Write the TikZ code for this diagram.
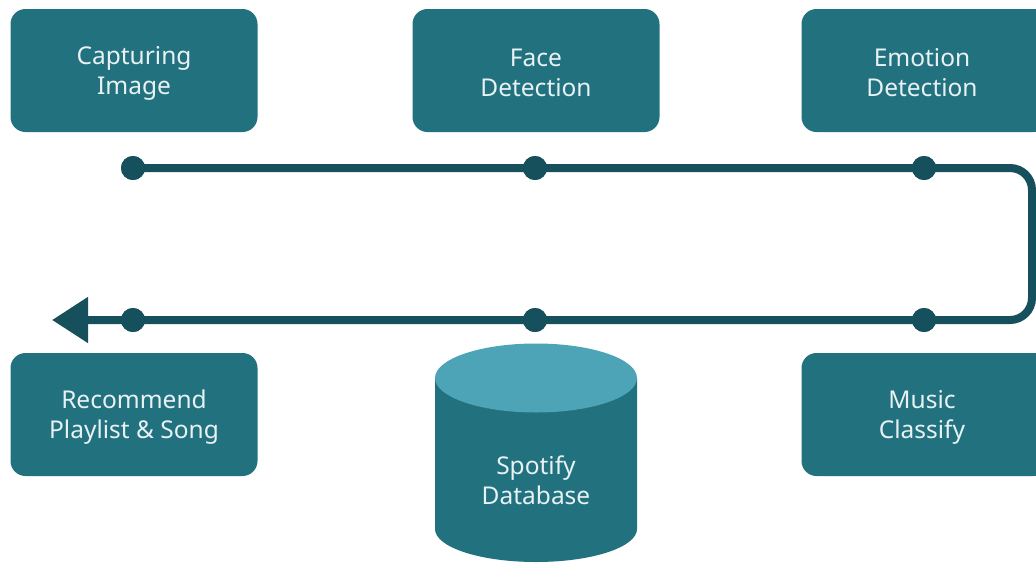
\documentclass[tikz,border=0pt]{standalone}
\usepackage{fontspec}
\setmainfont{Noto Sans}
\usetikzlibrary{arrows.meta}
\definecolor{boxfill}{HTML}{22717F}
\definecolor{linecol}{HTML}{15505C}
\definecolor{cyltop}{HTML}{4CA4B6}
\definecolor{txt}{HTML}{E8F1F3}
\begin{document}
\begin{tikzpicture}[x=1pt,y=-1pt,
  stepbox/.style={draw=none, fill=boxfill, rounded corners=15pt, minimum width=247pt, minimum height=123pt, inner sep=0pt},
  dot/.style={circle, fill=linecol, minimum size=24pt, inner sep=0pt},
  flow/.style={draw=linecol, line width=8pt, rounded corners=22pt},
  lbl/.style={align=center, text=txt, font=\fontsize{24.5}{30}\selectfont}]
\useasboundingbox (0,0) rectangle (1036,563);
\clip (0,0) rectangle (1036,563);
% boxes
\node[stepbox] (cap) at (134,70.5) {};
\node[stepbox] (face) at (536,70.5) {};
\node[stepbox] (emo) at (925,70.5) {};
\node[stepbox] (rec) at (134,414.5) {};
\node[stepbox] (mus) at (925,414.5) {};
\node[lbl] (capt) at (134,73) {Capturing\\Image};
\node[lbl] (facet) at (536,73) {Face\\Detection};
\node[lbl] (emot) at (922,73) {Emotion\\Detection};
\node[lbl] (rect) at (134,417) {Recommend\\Playlist \& Song};
\node[lbl] (must) at (922,417) {Music\\Classify};
% cylinder
\fill[boxfill] (435,378) -- (435,529) arc[start angle=180, end angle=0, x radius=101, y radius=33] -- (637,378) -- cycle;
\fill[cyltop] (536,378) ellipse[x radius=101, y radius=34.5];
\node[lbl] (db) at (536,480) {Spotify\\Database};
% flow
\coordinate (c1) at (1032,168);
\coordinate (c2) at (1032,320);
\coordinate (tip) at (52,320);
\node[dot] (t1) at (133,168) {};
\node[dot] (t2) at (535,168) {};
\node[dot] (t3) at (924,168) {};
\node[dot] (b1) at (133,320) {};
\node[dot] (b2) at (535,320) {};
\node[dot] (b3) at (924,320) {};
\draw[flow, -{Triangle[length=36pt,width=44pt]}] (t1.center) -- (c1) -- (c2) -- (tip);
\foreach \d in {t1,t2,t3,b1,b2,b3} \node[dot] at (\d) {};
\end{tikzpicture}
\end{document}
